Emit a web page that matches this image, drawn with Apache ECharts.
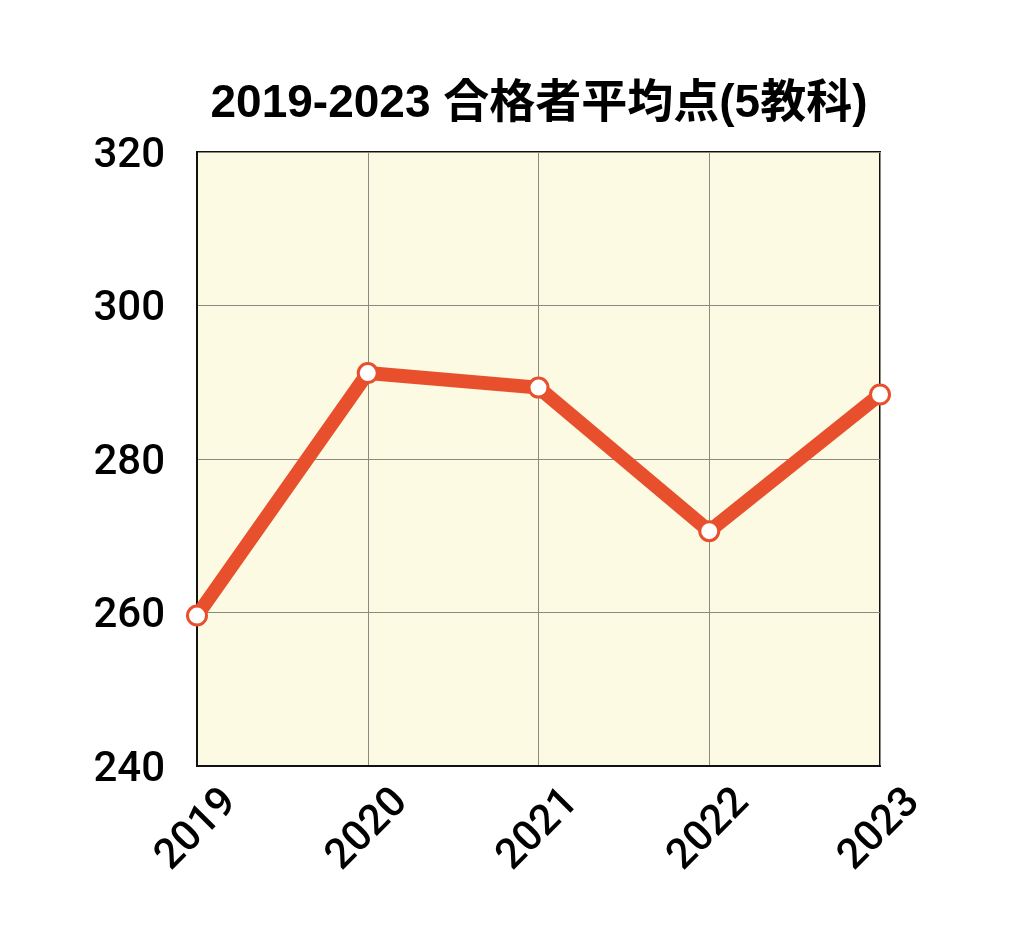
<!DOCTYPE html>
<html><head><meta charset="utf-8">
<script src="https://cdn.jsdelivr.net/npm/echarts@6/dist/echarts.min.js"></script>
<style>html,body{margin:0;padding:0;background:#fff}#c{width:1024px;height:949px}</style>
</head><body><div id="c"></div>
<script>
const titleText = '2019-2023 合格者平均点(5教科)';
const years = ['2019', '2020', '2021', '2022', '2023'];
const avgScores = [259.6, 291.2, 289.3, 270.6, 288.4];
const yTicks = [240, 260, 280, 300, 320];

const chart = echarts.init(document.getElementById('c'), null, {renderer: 'canvas'});
const TFONT = '"Liberation Sans", "Noto Sans CJK JP", sans-serif';
const LFONT = 'Roboto, "Liberation Sans", sans-serif';
chart.setOption({
  animation: false,
  backgroundColor: '#ffffff',
  title: {
    text: titleText,
    left: 534,
    top: 76,
    textAlign: 'center',
    textStyle: {fontFamily: TFONT, fontSize: 46, fontWeight: 'bold', color: '#000'}
  },
  grid: {
    left: 197, right: 144, top: 152, bottom: 183,
    show: true, backgroundColor: '#FCFAE2', borderColor: '#111', borderWidth: 2,
    containLabel: false
  },
  xAxis: {
    type: 'category',
    data: years,
    boundaryGap: false,
    axisLine: {show: true, lineStyle: {color: '#111', width: 2}},
    axisTick: {show: false},
    splitLine: {show: true, lineStyle: {color: '#8a8a80', width: 1}},
    axisLabel: {
      rotate: 45, align: 'center', verticalAlign: 'middle', margin: 64,
      fontFamily: LFONT, fontSize: 42, fontWeight: 500, color: '#000'
    }
  },
  yAxis: {
    type: 'value',
    min: yTicks[0], max: yTicks[yTicks.length - 1], interval: 20,
    axisLine: {show: true, lineStyle: {color: '#111', width: 2}},
    axisTick: {show: false},
    splitLine: {show: true, lineStyle: {color: '#8a8a80', width: 1}},
    axisLabel: {
      margin: 32, formatter: '{a|{value}}',
      rich: {a: {padding: [8, 0, 0, 0], fontFamily: LFONT, fontSize: 42, fontWeight: 500, color: '#000'}},
      fontFamily: LFONT, fontSize: 42, fontWeight: 500, color: '#000'
    }
  },
  series: [{
    type: 'line',
    data: avgScores,
    lineStyle: {color: '#E8502D', width: 14, cap: 'round', join: 'round'},
    itemStyle: {color: '#ffffff', borderColor: '#E8502D', borderWidth: 3},
    symbol: 'circle',
    symbolSize: 19,
    showAllSymbol: true,
    clip: false,
    z: 3
  }]
});
</script></body></html>
